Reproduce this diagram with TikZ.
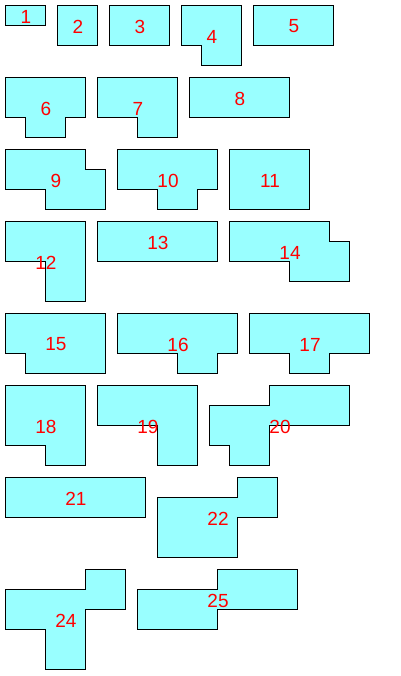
\documentclass[tikz,border=0pt]{standalone}
\usepackage{fontspec}
\setmainfont{Liberation Sans}
\definecolor{piecefill}{RGB}{153,255,255}
\begin{document}
\begin{tikzpicture}[x=1pt,y=-1pt,
  piece/.style={draw=black,line width=1pt,fill=piecefill,line join=miter},
  lab/.style={text=red,inner sep=0pt,anchor=center,font=\fontsize{19}{19}\selectfont}]
\useasboundingbox (0,0) rectangle (400,676);
\begin{scope}[shift={(0.5,0.5)}]
% row 1
\draw[piece] (5,5) rectangle (45,25);
\draw[piece] (57,5) rectangle (97,45);
\draw[piece] (109,5) rectangle (169,45);
\draw[piece] (181,5) -- (241,5) -- (241,65) -- (201,65) -- (201,45) -- (181,45) -- cycle;
\draw[piece] (253,5) rectangle (333,45);
% row 2
\draw[piece] (5,77) -- (85,77) -- (85,117) -- (65,117) -- (65,137) -- (25,137) -- (25,117) -- (5,117) -- cycle;
\draw[piece] (97,77) -- (177,77) -- (177,137) -- (137,137) -- (137,117) -- (97,117) -- cycle;
\draw[piece] (189,77) rectangle (289,117);
% row 3
\draw[piece] (5,149) -- (85,149) -- (85,169) -- (105,169) -- (105,209) -- (45,209) -- (45,189) -- (5,189) -- cycle;
\draw[piece] (117,149) -- (217,149) -- (217,189) -- (197,189) -- (197,209) -- (157,209) -- (157,189) -- (117,189) -- cycle;
\draw[piece] (229,149) rectangle (309,209);
% row 4
\draw[piece] (5,221) -- (85,221) -- (85,301) -- (45,301) -- (45,261) -- (5,261) -- cycle;
\draw[piece] (97,221) rectangle (217,261);
\draw[piece] (229,221) -- (329,221) -- (329,241) -- (349,241) -- (349,281) -- (289,281) -- (289,261) -- (229,261) -- cycle;
% row 5
\draw[piece] (5,313) -- (105,313) -- (105,373) -- (25,373) -- (25,353) -- (5,353) -- cycle;
\draw[piece] (117,313) -- (237,313) -- (237,353) -- (217,353) -- (217,373) -- (177,373) -- (177,353) -- (117,353) -- cycle;
\draw[piece] (249,313) -- (369,313) -- (369,353) -- (329,353) -- (329,373) -- (289,373) -- (289,353) -- (249,353) -- cycle;
% row 6
\draw[piece] (5,385) -- (85,385) -- (85,465) -- (45,465) -- (45,445) -- (5,445) -- cycle;
\draw[piece] (97,385) -- (197,385) -- (197,465) -- (157,465) -- (157,425) -- (97,425) -- cycle;
\draw[piece] (269,385) -- (349,385) -- (349,425) -- (269,425) -- (269,465) -- (229,465) -- (229,445) -- (209,445) -- (209,405) -- (269,405) -- cycle;
% row 7
\draw[piece] (5,477) rectangle (145,517);
\draw[piece] (237,477) -- (277,477) -- (277,517) -- (237,517) -- (237,557) -- (157,557) -- (157,497) -- (237,497) -- cycle;
% row 8
\draw[piece] (85,569) -- (125,569) -- (125,609) -- (85,609) -- (85,669) -- (45,669) -- (45,629) -- (5,629) -- (5,589) -- (85,589) -- cycle;
\draw[piece] (217,569) -- (297,569) -- (297,609) -- (217,609) -- (217,629) -- (137,629) -- (137,589) -- (217,589) -- cycle;
% labels
\begin{scope}[shift={(0.5,1)}]
\node[lab] (l1) at (25,15) {1};
\node[lab] (l2) at (77,25) {2};
\node[lab] (l3) at (139,25) {3};
\node[lab] (l4) at (211,35) {4};
\node[lab] (l5) at (293,25) {5};
\node[lab] (l6) at (45,107) {6};
\node[lab] (l7) at (137,107) {7};
\node[lab] (l8) at (239,97) {8};
\node[lab] (l9) at (55,179) {9};
\node[lab] (l10) at (167,179) {10};
\node[lab] (l11) at (269,179) {11};
\node[lab] (l12) at (45,261) {12};
\node[lab] (l13) at (157,241) {13};
\node[lab] (l14) at (289,251) {14};
\node[lab] (l15) at (55,343) {15};
\node[lab] (l16) at (177,343) {16};
\node[lab] (l17) at (309,343) {17};
\node[lab] (l18) at (45,425) {18};
\node[lab] (l19) at (147,425) {19};
\node[lab] (l20) at (279,425) {20};
\node[lab] (l21) at (75,497) {21};
\node[lab] (l22) at (217,517) {22};
\node[lab] (l24) at (65,619) {24};
\node[lab] (l25) at (217,599) {25};
\end{scope}
\end{scope}
\end{tikzpicture}
\end{document}
